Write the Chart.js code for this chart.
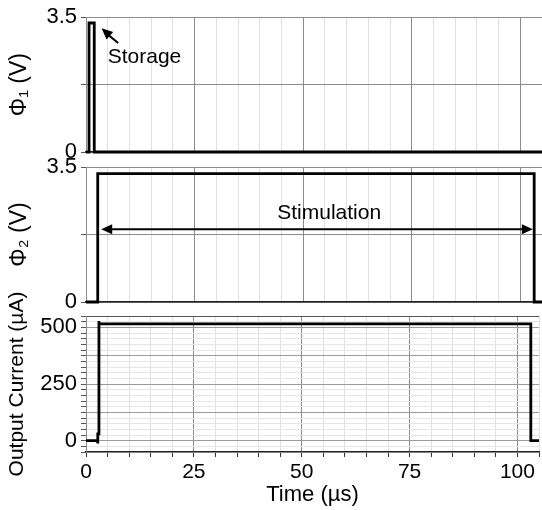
<!DOCTYPE html>
<html>
<head>
<meta charset="utf-8">
<script src="https://cdn.jsdelivr.net/npm/chart.js@4.4.1/dist/chart.umd.min.js"></script>
<style>
  html, body { margin: 0; padding: 0; background: #fff; }
  #wrap { position: relative; width: 542px; height: 510px; }
  #wrap canvas { position: absolute; left: 0; top: 0; }
</style>
</head>
<body>
<div id="wrap">
  <canvas id="phi1" width="542" height="510"></canvas>
  <canvas id="phi2" width="542" height="510"></canvas>
  <canvas id="current" width="542" height="510"></canvas>
</div>
<script>
// time axis (µs)
const timeLabels = [0, 25, 50, 75, 100];

// Φ1 – storage pulse (V)
const phi1Time = [0, 0.7, 0.7, 1.9, 1.9, 105];
const phi1Volt = [0, 0, 3.35, 3.35, 0, 0];

// Φ2 – stimulation pulse (V)
const phi2Time = [0, 2.7, 2.7, 103.2, 103.2, 105];
const phi2Volt = [0, 0, 3.33, 3.33, 0, 0];

// output current (µA)
const currentTime = [0, 2.7, 2.7, 2.75, 2.75, 3.0, 3.0, 3.0, 103.1, 103.1, 105];
const currentUA = [0, 0, -12, -12, 30, 30, 528, 515, 515, 0, 0];

const voltTicks = [0, 1.75, 3.5];
const voltLabels = [0, 3.5];
const currentLabels = [0, 250, 500];

const FONT = '"Liberation Sans", Arial, sans-serif';
Chart.defaults.font.family = FONT;
Chart.defaults.font.size = 20;
Chart.defaults.color = '#000';

const MAJOR = '#8c8c8c';
const MINOR = '#e0e0e0';

const points = (xs, ys) => xs.map((x, i) => ({ x, y: ys[i] }));

function xScale(withLabels) {
  return {
    type: 'linear', min: 0, max: 105,
    ticks: {
      display: withLabels, stepSize: 5, autoSkip: false, maxRotation: 0, padding: 3,
      font: { size: 21 },
      callback: v => timeLabels.includes(v) ? v : ''
    },
    grid: {
      color: c => (c.tick && timeLabels.includes(c.tick.value)) ? MAJOR : MINOR,
      drawTicks: withLabels, tickLength: 5, tickColor: '#333'
    },
    border: { color: '#222', width: 1.5 },
    title: { display: withLabels, text: 'Time (µs)', font: { size: 22 }, padding: { top: 0, bottom: 2 } },
    afterFit: s => { s.height = withLabels ? 58 : 0; }
  };
}

function voltScale(title) {
  return {
    min: 0, max: 3.5,
    afterBuildTicks: s => { s.ticks = voltTicks.map(v => ({ value: v })); },
    ticks: { padding: 4, font: { size: 22 }, callback: v => voltLabels.includes(v) ? v : '' },
    grid: { color: MAJOR, tickLength: 5, tickColor: '#555' },
    border: { color: MAJOR },
    title: { display: true, text: title, font: { size: 23 }, padding: { top: 6, bottom: 0 } },
    afterFit: s => { s.width = 86; }
  };
}

const currentScale = {
  min: -50, max: 550,
  ticks: {
    stepSize: 25, autoSkip: false, padding: 4, font: { size: 22 },
    callback: v => currentLabels.includes(v) ? v : ''
  },
  grid: {
    color: c => {
      const v = c.tick ? c.tick.value : 0;
      if (v === 550) return '#555';
      return v % 125 === 0 ? '#9a9a9a' : '#e6e6e6';
    },
    tickLength: 5, tickColor: '#555'
  },
  border: { color: MAJOR },
  title: { display: true, text: 'Output Current (µA)', font: { size: 21 }, padding: { top: 5, bottom: 0 } },
  afterFit: s => { s.width = 86; }
};

function drawArrowHead(ctx, fx, fy, tx, ty) {
  const a = Math.atan2(ty - fy, tx - fx);
  const len = 11, half = 5;
  ctx.beginPath();
  ctx.moveTo(tx, ty);
  ctx.lineTo(tx - len * Math.cos(a) + half * Math.sin(a), ty - len * Math.sin(a) - half * Math.cos(a));
  ctx.lineTo(tx - len * Math.cos(a) - half * Math.sin(a), ty - len * Math.sin(a) + half * Math.cos(a));
  ctx.closePath();
  ctx.fill();
}

const storageNote = {
  id: 'storageNote',
  afterDatasetsDraw(chart) {
    const { ctx, scales: { x, y } } = chart;
    ctx.save();
    ctx.fillStyle = '#000';
    ctx.strokeStyle = '#000';
    ctx.lineWidth = 2;
    ctx.font = '21px ' + FONT;
    ctx.textBaseline = 'middle';
    ctx.fillText('Storage', x.getPixelForValue(5.0), y.getPixelForValue(2.46));
    const fx = x.getPixelForValue(7.4), fy = y.getPixelForValue(2.83);
    const tx = x.getPixelForValue(3.6), ty = y.getPixelForValue(3.21);
    ctx.beginPath();
    ctx.moveTo(fx, fy);
    ctx.lineTo(tx + 6, ty + 6);
    ctx.stroke();
    drawArrowHead(ctx, fx, fy, tx, ty);
    ctx.restore();
  }
};

const stimulationNote = {
  id: 'stimulationNote',
  afterDatasetsDraw(chart) {
    const { ctx, scales: { x, y } } = chart;
    ctx.save();
    ctx.fillStyle = '#000';
    ctx.strokeStyle = '#000';
    ctx.lineWidth = 2;
    ctx.font = '21px ' + FONT;
    ctx.textAlign = 'center';
    ctx.textBaseline = 'middle';
    ctx.fillText('Stimulation', x.getPixelForValue(56), y.getPixelForValue(2.3));
    const ay = y.getPixelForValue(1.885);
    const x1 = x.getPixelForValue(3.5), x2 = x.getPixelForValue(102.9);
    ctx.beginPath();
    ctx.moveTo(x1 + 8, ay);
    ctx.lineTo(x2 - 8, ay);
    ctx.stroke();
    drawArrowHead(ctx, x2, ay, x1, ay);
    drawArrowHead(ctx, x1, ay, x2, ay);
    ctx.restore();
  }
};

function makeChart(id, xs, ys, lineWidth, yScale, padding, withLabels, extra) {
  return new Chart(document.getElementById(id), {
    type: 'scatter',
    data: {
      datasets: [{
        data: points(xs, ys),
        showLine: true,
        borderColor: '#000',
        borderWidth: lineWidth,
        pointRadius: 0,
        tension: 0,
        clip: false
      }]
    },
    options: {
      responsive: false,
      animation: false,
      layout: { padding },
      scales: { x: xScale(withLabels), y: yScale },
      plugins: { legend: { display: false }, tooltip: { enabled: false } }
    },
    plugins: extra ? [extra] : []
  });
}

makeChart('phi1', phi1Time, phi1Volt, 2.8, voltScale('Φ₁ (V)'),
  { top: 17, bottom: 358, left: 0, right: 0 }, false, storageNote);
makeChart('phi2', phi2Time, phi2Volt, 2.8, voltScale('Φ₂ (V)'),
  { top: 167, bottom: 208, left: 0, right: 0 }, false, stimulationNote);
makeChart('current', currentTime, currentUA, 2.8, currentScale,
  { top: 316, bottom: 0, left: 0, right: 0 }, true, null);
</script>
</body>
</html>
